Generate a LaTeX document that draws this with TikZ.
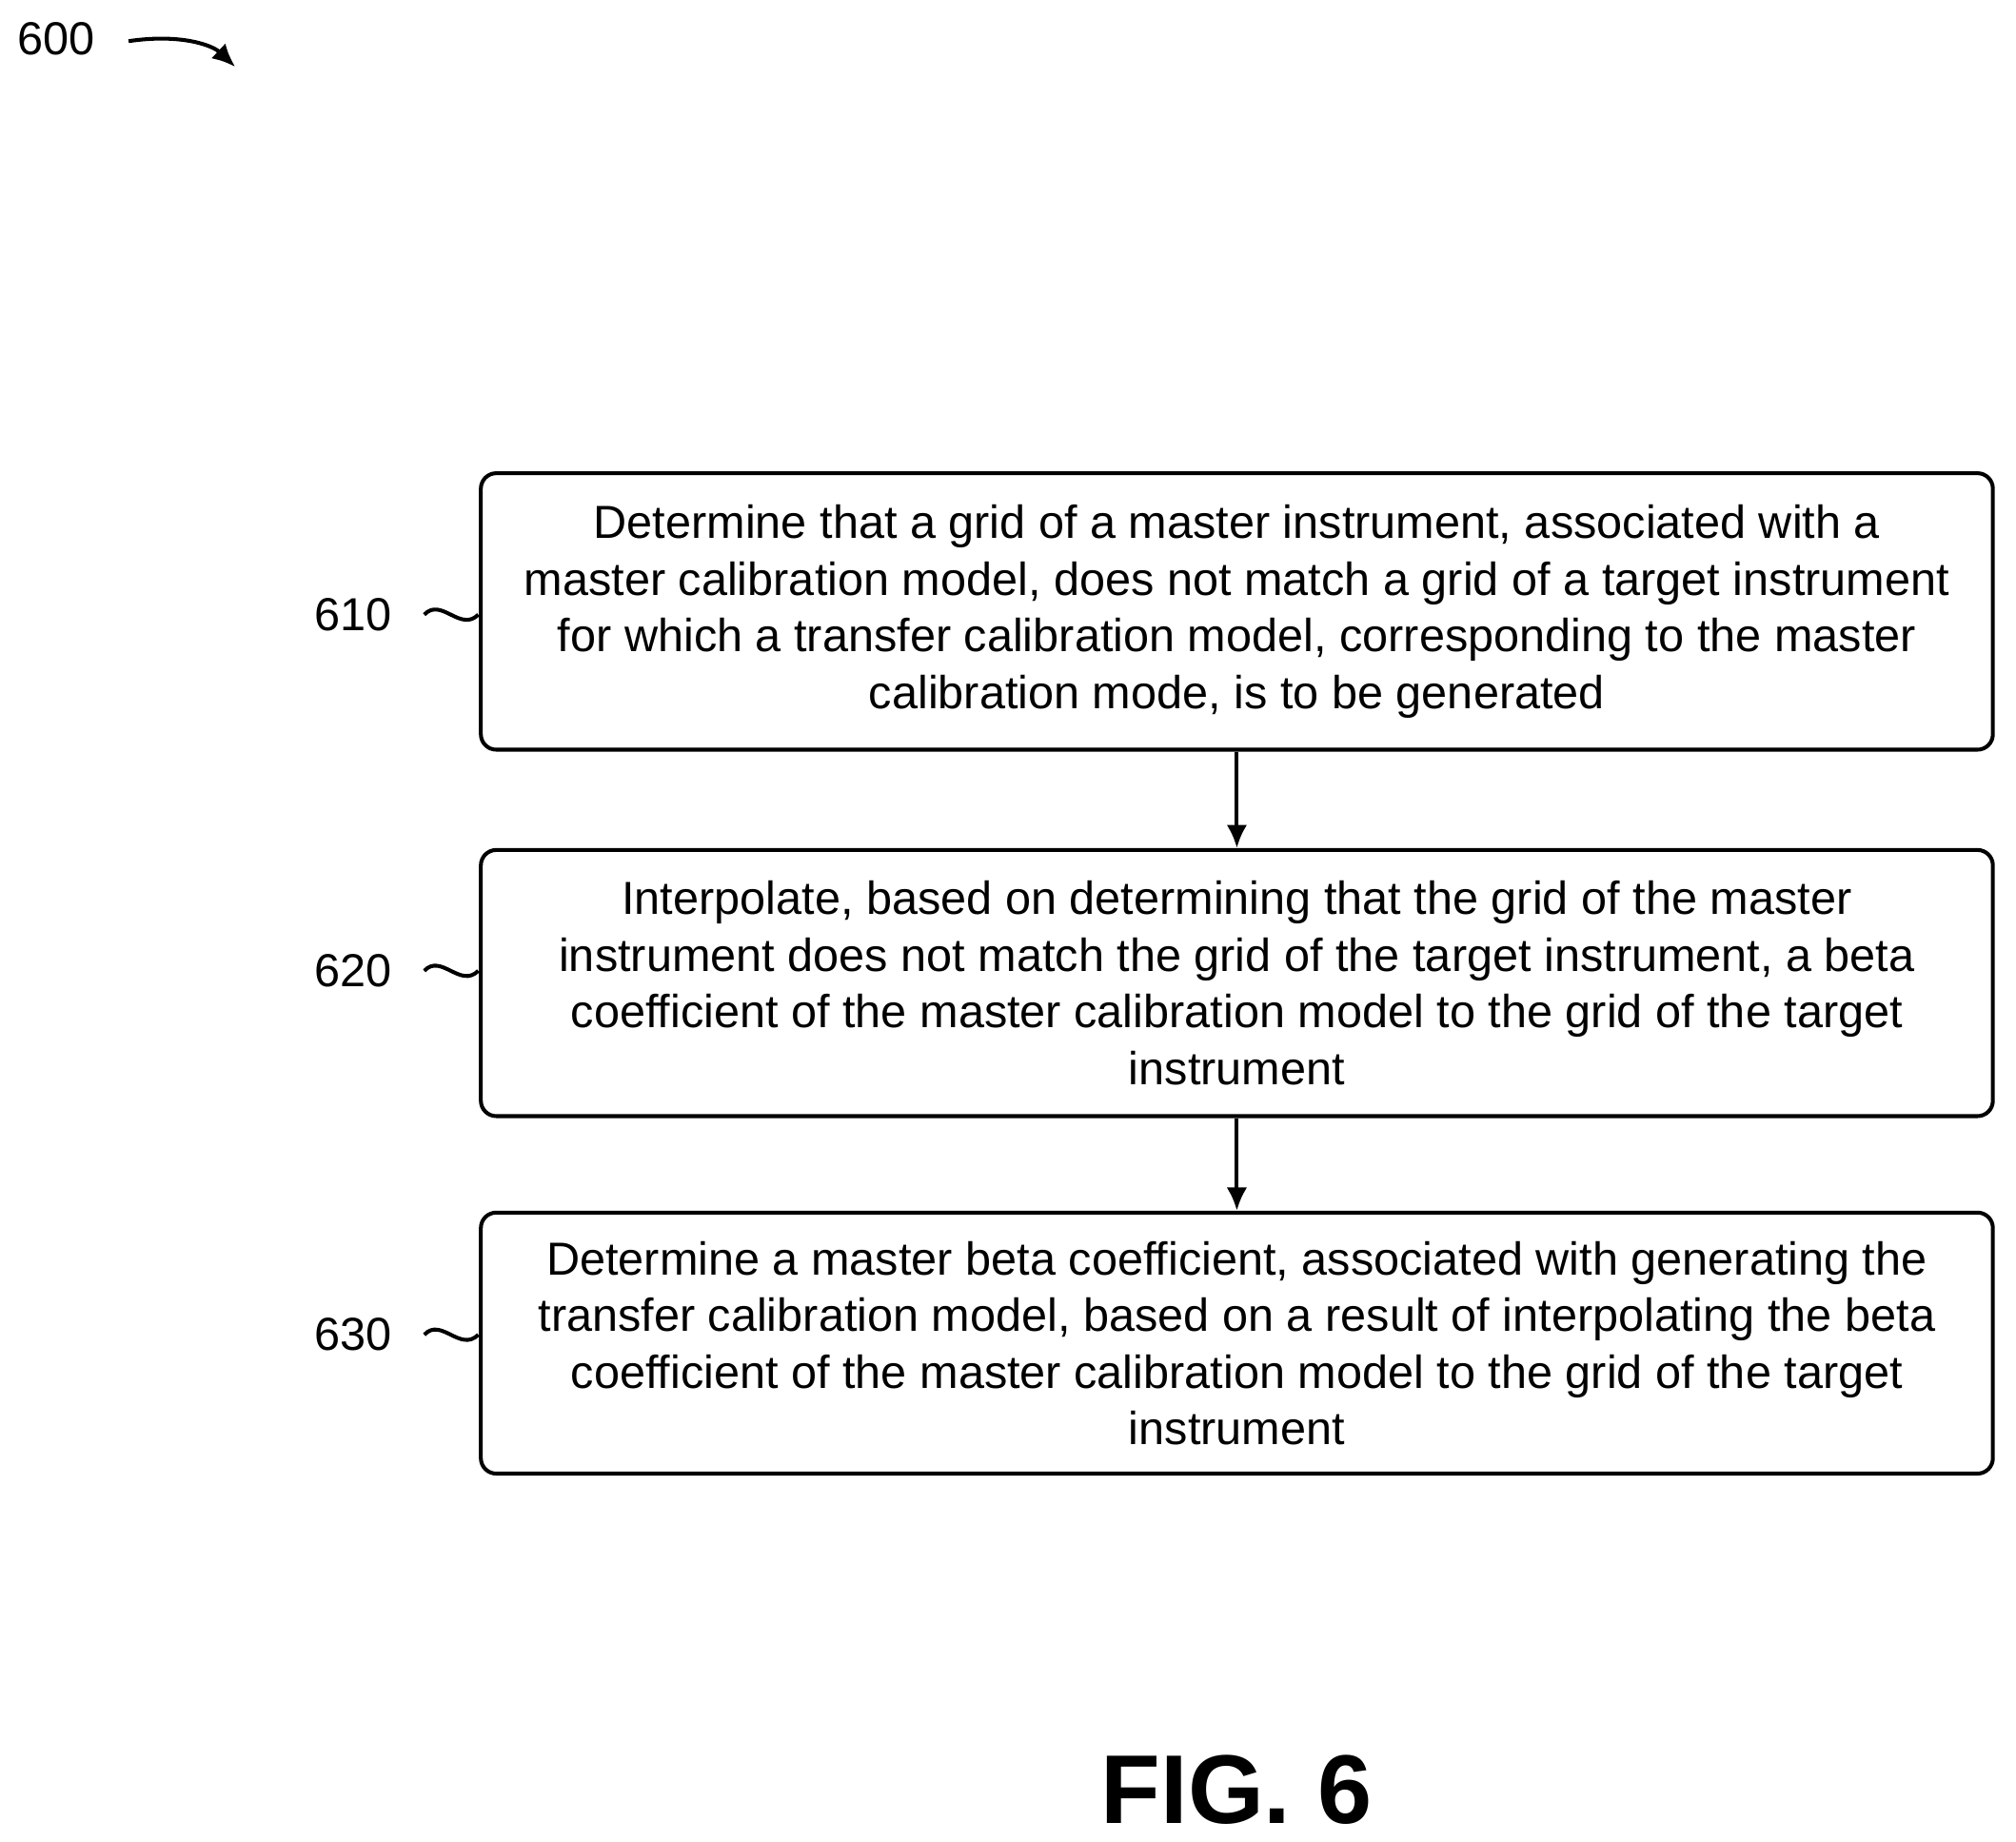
\documentclass[tikz,border=0pt]{standalone}
\usepackage{fontspec}
\setmainfont{Liberation Sans}
\usetikzlibrary{positioning,arrows.meta}

\begin{document}
\begin{tikzpicture}[x=0.5pt,y=-0.5pt,
  stepbox/.style={rectangle,draw,line width=1.5pt,rounded corners=6pt,minimum width=588pt,
    align=center,font=\fontsize{18}{22}\selectfont,inner sep=0pt},
  lbl/.style={font=\fontsize{18}{22}\selectfont},
  flow/.style={-{Latex[length=9pt,width=8pt]},line width=1.5pt},
  tilde/.style={line width=1.5pt},
]
\useasboundingbox (0,0) rectangle (1568,1432);

\node[lbl] (fig) at (44,30) {600};
\draw[flow] (100,32) .. controls (140,26) and (165,35) .. (183,52);

%% Steps
\node[stepbox,minimum height=107.5pt] (s610) at (962,475.5) {Determine that a grid of a master instrument, associated with a\\ master calibration model, does not match a grid of a target instrument\\ for which a transfer calibration model, corresponding to the master\\ calibration mode, is to be generated};
\node[stepbox,minimum height=103.5pt] (s620) at (962,764.5) {Interpolate, based on determining that the grid of the master\\ instrument does not match the grid of the target instrument, a beta\\ coefficient of the master calibration model to the grid of the target\\ instrument};
\node[stepbox,minimum height=101.5pt] (s630) at (962,1044.5) {Determine a master beta coefficient, associated with generating the\\ transfer calibration model, based on a result of interpolating the beta\\ coefficient of the master calibration model to the grid of the target\\ instrument};

\draw[flow] (s610) -- (s620);
\draw[flow] (s620) -- (s630);

%% Reference numerals
\foreach \n/\y in {610/478,620/755,630/1038}{
  \node[lbl,anchor=east] (l\n) at (312,\y) {\n};
  \draw[tilde] (330,\y) .. controls (343,\y-14) and (358,\y+14) .. (372,\y);
}

\node[font=\bfseries\fontsize{38}{44}\selectfont] (caption) at (962,1392) {FIG. 6};
\end{tikzpicture}
\end{document}
